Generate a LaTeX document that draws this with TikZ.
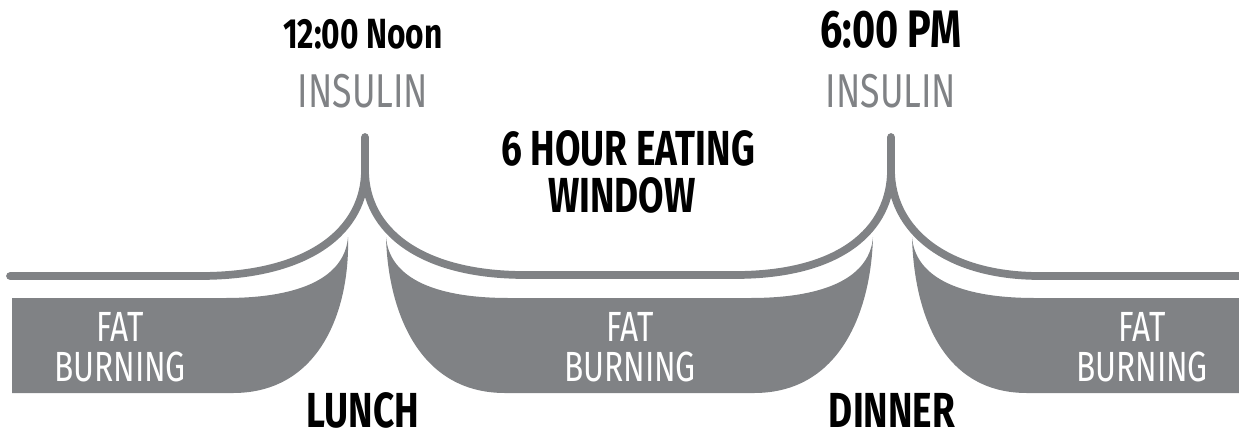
\documentclass[tikz,border=0pt]{standalone}
\usepackage{fontspec}
\usepackage{tikz}
\newfontfamily\handfont[FakeStretch=0.75]{Fira Sans}
\definecolor{curvegray}{RGB}{128,130,133}

\begin{document}
\begin{tikzpicture}[x=0.01cm, y=-0.01cm,
    insulin/.style={draw=curvegray, line width=2.2pt, line cap=round, line join=round},
    fatzone/.style={fill=curvegray},
    clock/.style={font=\handfont\bfseries\fontsize{12}{12}\selectfont, text=black, inner sep=1pt},
    hormone/.style={font=\handfont\fontsize{13.5}{14}\selectfont, text=curvegray, inner sep=1pt},
    meal/.style={font=\handfont\bfseries\fontsize{14}{11.6}\selectfont, text=black, inner sep=0pt},
    burntext/.style={font=\handfont\fontsize{12}{11.4}\selectfont, text=white, align=center}]
    \useasboundingbox (0,0) rectangle (1239,436);

    \fill[fatzone] (12,298) -- (225,298) .. controls (305,298) and (345,275) .. (348,237)
        .. controls (350,310) and (320,393) .. (233,393) -- (12,393) -- cycle;
    \fill[fatzone] (386,237) .. controls (389,275) and (429,298) .. (509,298) -- (750,298)
        .. controls (830,298) and (870,275) .. (873,237)
        .. controls (871,310) and (841,393) .. (754,393) -- (505,393)
        .. controls (418,393) and (388,310) .. (386,237) -- cycle;
    \fill[fatzone] (912,237) .. controls (915,275) and (955,298) .. (1035,298) -- (1239,298)
        -- (1239,393) -- (1027,393) .. controls (940,393) and (914,310) .. (912,237) -- cycle;

    \draw[insulin] (10,276) -- (200,276) .. controls (310,276) and (365,230) .. (365,170) -- (365,137);
    \draw[insulin] (365,170) .. controls (365,230) and (420,275) .. (525,275) -- (735,275)
        .. controls (840,275) and (891,230) .. (891,170) -- (891,137);
    \draw[insulin] (891,170) .. controls (891,230) and (946,276) .. (1040,276) -- (1245,276);

    \node[clock] (noon) at (363,34) {12:00 Noon};
    \node[clock, font=\handfont\bfseries\fontsize{15}{15}\selectfont] (evening) at (891,30) {6:00 PM};
    \node[hormone] (insnoon) at (363,91) {INSULIN};
    \node[hormone] (insevening) at (891,91) {INSULIN};
    \node[meal] (eating) at (628,148) {6 HOUR EATING};
    \node[meal] (window) at (622,195) {WINDOW};
    \node[meal] (lunch) at (363,410) {LUNCH};
    \node[meal] (dinner) at (892,410) {DINNER};
    \node[burntext] (burnleft) at (120,347) {FAT\\BURNING};
    \node[burntext] (burnmid) at (630,347) {FAT\\BURNING};
    \node[burntext] (burnright) at (1142,347) {FAT\\BURNING};
\end{tikzpicture}
\end{document}
